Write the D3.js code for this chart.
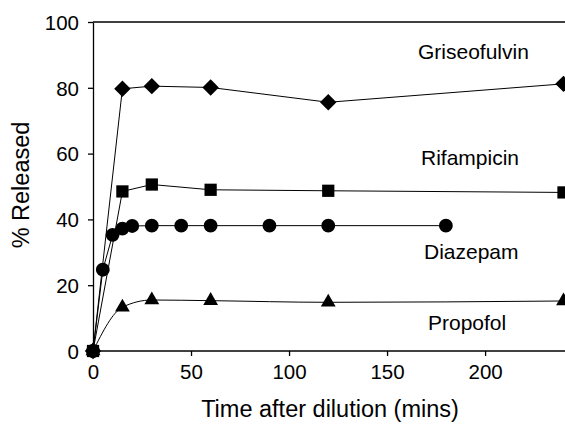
<!DOCTYPE html>
<html>
<head>
<meta charset="utf-8">
<script src="https://cdn.jsdelivr.net/npm/d3@7"></script>
<style>
  body { margin: 0; background: #fff; }
  svg text { font-family: Arial, "Liberation Sans", sans-serif; fill: #000; }
</style>
</head>
<body>
<div id="chart"></div>
<script>
// data (time in mins, % released)
var grisTime = [0, 15, 30, 60, 120, 240],
    grisVals = [0, 79.7, 80.5, 80.1, 75.6, 81.2];
var rifTime = [0, 15, 30, 60, 120, 240],
    rifVals = [0, 48.5, 50.6, 49.0, 48.7, 48.2];
var diazTime = [0, 5, 10, 15, 20, 30, 45, 60, 90, 120, 180],
    diazVals = [0, 24.7, 35.3, 37.2, 38.0, 38.1, 38.1, 38.1, 38.1, 38.1, 38.1];
var propTime = [0, 15, 30, 60, 120, 240],
    propVals = [0, 13.3, 15.5, 15.3, 14.8, 15.2];
var xTicks = [0, 50, 100, 150, 200],
    yTicks = [0, 20, 40, 60, 80, 100];

var width = 565, height = 424;
var svg = d3.select('#chart').append('svg')
    .attr('width', width)
    .attr('height', height);

var x = d3.scaleLinear().domain([0, 240]).range([93, 563.5]),
    y = d3.scaleLinear().domain([0, 100]).range([351, 22]);

// frame: top line
svg.append('line')
    .attr('x1', x(0)).attr('x2', width)
    .attr('y1', y(100)).attr('y2', y(100))
    .attr('stroke', '#000').attr('stroke-width', 1.3);

var xAxis = svg.append('g')
    .attr('transform', 'translate(0,' + y(0) + ')')
    .call(d3.axisBottom(x).tickValues(xTicks).tickSize(5).tickSizeOuter(0).tickPadding(8));
xAxis.select('.domain').attr('d', 'M' + x(0) + ',0H' + width);

var yAxis = svg.append('g')
    .attr('transform', 'translate(' + x(0) + ',0)')
    .call(d3.axisLeft(y).tickValues(yTicks).tickSize(5).tickSizeOuter(0).tickPadding(9));

[xAxis, yAxis].forEach(function (ax) {
    ax.selectAll('.domain, line').attr('stroke', '#000').attr('stroke-width', 1.3);
    ax.selectAll('text').attr('font-size', 20.5).attr('fill', '#000');
});
yAxis.selectAll('text').attr('dy', '0.36em');
xAxis.selectAll('text').attr('dy', '0.75em');

// axis titles
svg.append('text')
    .attr('x', 330).attr('y', 417)
    .attr('text-anchor', 'middle')
    .attr('font-size', 23.5)
    .text('Time after dilution (mins)');
svg.append('text')
    .attr('transform', 'translate(29,185) rotate(-90)')
    .attr('text-anchor', 'middle')
    .attr('font-size', 23.5)
    .text('% Released');

var series = [
    { name: 'Griseofulvin', t: grisTime, v: grisVals, sym: d3.symbolSquare, size: 135, rot: 45, curve: d3.curveLinear, lx: 418, ly: 59 },
    { name: 'Rifampicin', t: rifTime, v: rifVals, sym: d3.symbolSquare, size: 150, rot: 0, curve: d3.curveLinear, lx: 421, ly: 165 },
    { name: 'Diazepam', t: diazTime, v: diazVals, sym: d3.symbolCircle, size: 150, rot: 0, curve: d3.curveLinear, lx: 424, ly: 259 },
    { name: 'Propofol', t: propTime, v: propVals, sym: d3.symbolTriangle, size: 95, rot: 0, curve: d3.curveMonotoneX, lx: 428, ly: 330 }
];

series.forEach(function (s) {
    var pts = s.t.map(function (t, i) { return [t, s.v[i]]; });
    var line = d3.line()
        .x(function (d) { return x(d[0]); })
        .y(function (d) { return y(d[1]); })
        .curve(s.curve);

    svg.append('path')
        .datum(pts)
        .attr('d', line)
        .attr('fill', 'none')
        .attr('stroke', '#000')
        .attr('stroke-width', 1);

    svg.selectAll(null)
        .data(pts)
        .enter()
        .append('path')
        .attr('d', d3.symbol().type(s.sym).size(s.size))
        .attr('transform', function (d) {
            return 'translate(' + x(d[0]) + ',' + y(d[1]) + ') rotate(' + s.rot + ')';
        })
        .attr('fill', '#000');

    svg.append('text')
        .attr('x', s.lx).attr('y', s.ly)
        .attr('font-size', 21)
        .text(s.name);
});
</script>
</body>
</html>
